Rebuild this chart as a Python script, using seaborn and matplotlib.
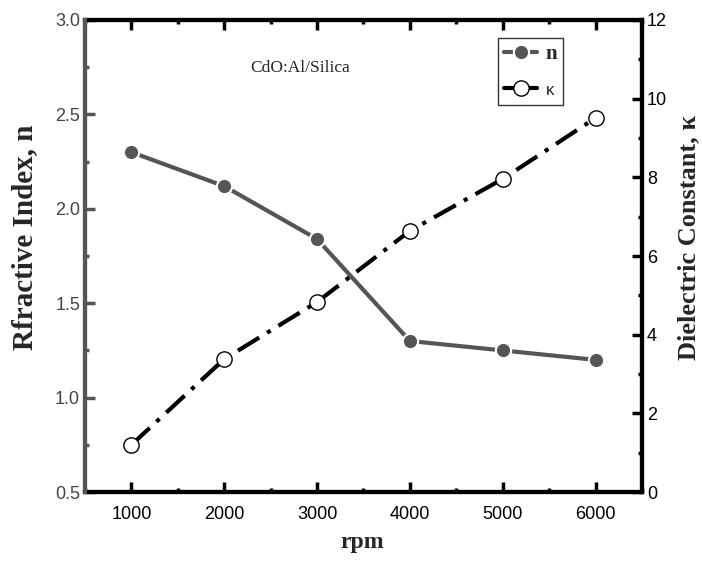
import matplotlib
matplotlib.use("Agg")
import matplotlib.pyplot as plt
import seaborn as sns
import pandas as pd
from matplotlib.ticker import MultipleLocator
from matplotlib.lines import Line2D

rpm = [1000, 2000, 3000, 4000, 5000, 6000]
n_values = [2.30, 2.12, 1.84, 1.30, 1.25, 1.20]
k_values = [1.2, 3.38, 4.83, 6.64, 7.96, 9.51]

df = pd.DataFrame({"rpm": rpm, "n": n_values, "k": k_values})

sns.set_style("ticks")
plt.rcParams["font.family"] = ["Liberation Sans", "DejaVu Sans"]

fig = plt.figure(figsize=(7.02, 5.63), dpi=100)
ax = fig.add_axes([0.121, 0.126, 0.7935, 0.8385])
ax2 = ax.twinx()

grey = "#555555"
sns.lineplot(data=df, x="rpm", y="n", ax=ax, color=grey, lw=3,
             marker="o", markersize=11, markerfacecolor=grey,
             markeredgecolor="white", markeredgewidth=1.5, zorder=3)
sns.lineplot(data=df, x="rpm", y="k", ax=ax2, color="black", lw=3,
             linestyle=(0, (6, 2.2, 1, 2.2)),
             marker="o", markersize=11, markerfacecolor="white",
             markeredgecolor="black", markeredgewidth=1.0, zorder=3)

ax.set_xlim(500, 6500)
ax.set_ylim(0.5, 3.0)
ax2.set_ylim(0, 12)

ax.xaxis.set_major_locator(MultipleLocator(1000))
ax.xaxis.set_minor_locator(MultipleLocator(500))
ax.yaxis.set_major_locator(MultipleLocator(0.5))
ax.yaxis.set_minor_locator(MultipleLocator(0.25))
ax2.yaxis.set_major_locator(MultipleLocator(2))
ax2.yaxis.set_minor_locator(MultipleLocator(1))

ax.tick_params(axis="x", which="both", direction="in", top=True, colors="black",
               labelsize=13, pad=10)
ax.tick_params(axis="x", which="major", length=7, width=2.5)
ax.tick_params(axis="x", which="minor", length=3, width=2.5)
ax.tick_params(axis="y", which="both", direction="in", colors=grey,
               labelsize=13, labelcolor="#444444")
ax.tick_params(axis="y", which="major", length=7, width=2.5)
ax.tick_params(axis="y", which="minor", length=3, width=2.5)
ax2.tick_params(axis="y", which="both", direction="in", colors="black", labelsize=13)
ax2.tick_params(axis="y", which="major", length=7, width=2.5)
ax2.tick_params(axis="y", which="minor", length=3, width=2.5)

for a in (ax, ax2):
    for s in a.spines.values():
        s.set_linewidth(3)
        s.set_color("black")
ax.spines["left"].set_color(grey)
ax2.spines["left"].set_color(grey)
ax2.spines["left"].set_zorder(5)

serif = ["Liberation Serif", "DejaVu Serif"]
ax.set_xlabel("rpm", fontsize=17, fontweight="bold", family=serif)
ax.xaxis.set_label_coords(0.497, -0.085)
ax.set_ylabel("Rfractive Index, n", fontsize=21, fontweight="bold", family=serif)
ax.yaxis.set_label_coords(-0.085, 0.54)
ax2.set_ylabel("Dielectric Constant, κ", fontsize=19, fontweight="bold", family=serif)
ax2.yaxis.set_label_coords(1.063, 0.54)

ax.text(0.386, 0.898, "CdO:Al/Silica", transform=ax.transAxes, fontsize=12.5,
        family=serif, ha="center", va="center")

handles = [
    Line2D([], [], color=grey, lw=3, marker="o", markersize=11,
           markerfacecolor=grey, markeredgecolor="white", markeredgewidth=1.5),
    Line2D([], [], color="black", lw=3, linestyle="-", marker="o", markersize=11,
           markerfacecolor="white", markeredgecolor="black", markeredgewidth=1.0),
]
leg = ax2.legend(handles, ["n", "κ"], loc="upper left", bbox_to_anchor=(0.741, 0.962),
                 borderaxespad=0, frameon=True, fancybox=False, edgecolor="black",
                 handlelength=1.6, handletextpad=0.4, borderpad=0.3, labelspacing=0.8,
                 prop={"family": serif, "weight": "bold", "size": 15})
leg.get_frame().set_linewidth(1.0)
ktxt = leg.get_texts()[1]
ktxt.set_fontfamily(["Liberation Sans", "DejaVu Sans"])
ktxt.set_fontweight("normal")
ktxt.set_fontsize(12)

fig.savefig("out.png", dpi=100)
